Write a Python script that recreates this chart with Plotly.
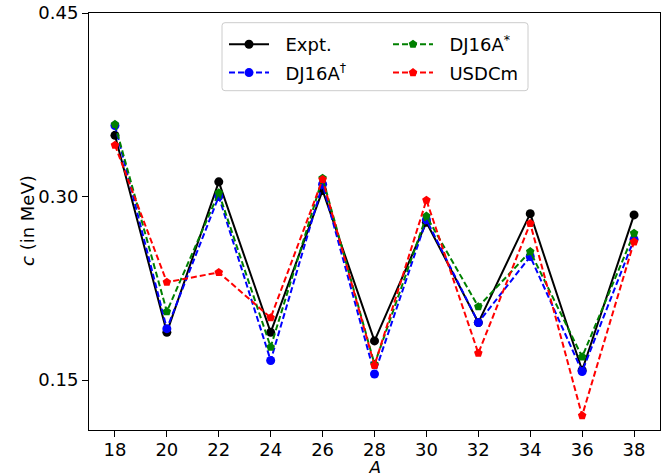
import plotly.graph_objects as go

A = [18, 20, 22, 24, 26, 28, 30, 32, 34, 36, 38]
expt = [0.350, 0.189, 0.312, 0.189, 0.305, 0.182, 0.279, 0.197, 0.286, 0.158, 0.285]
dj16a_dag = [0.358, 0.192, 0.300, 0.166, 0.310, 0.155, 0.281, 0.197, 0.251, 0.157, 0.265]
dj16a_star = [0.359, 0.206, 0.303, 0.177, 0.315, 0.163, 0.284, 0.210, 0.255, 0.169, 0.270]
usdcm = [0.342, 0.230, 0.238, 0.201, 0.314, 0.162, 0.297, 0.172, 0.278, 0.121, 0.263]
x_ticks = [18, 20, 22, 24, 26, 28, 30, 32, 34, 36, 38]
y_ticks = [0.15, 0.30, 0.45]

names = ["Expt.", "DJ16A<sup>\u2020</sup>", "DJ16A<sup>*</sup>", "USDCm"]
colors = ["black", "blue", "green", "red"]
symbols = ["circle", "circle", "pentagon", "pentagon"]
dashes = ["solid", "6px,3px", "6px,3px", "6px,3px"]
legends = ["legend", "legend", "legend2", "legend2"]
series = [expt, dj16a_dag, dj16a_star, usdcm]

fig = go.Figure()
for s, n, c, sym, d, lg in zip(series, names, colors, symbols, dashes, legends):
    fig.add_trace(go.Scatter(
        x=A, y=s, name="\u00a0\u00a0" + n, mode="lines+markers", legend=lg,
        legendgroup=n,
        line=dict(color=c, width=2, dash=d),
        marker=dict(color=c, symbol=sym, size=9, line=dict(width=0)),
    ))

# plot area in pixels
L, R, T, B = 89, 8, 13, 43
W, H = 668, 473
pw, ph = W - L - R, H - T - B


def px(xp):
    return (xp - L) / pw


def py(yp):
    return 1 - (yp - T) / ph


# legend frame (rounded rectangle)
bx0, bx1, by0, by1, rad = 222, 528, 22.7, 90.7, 3
path = (
    f"M{px(bx0 + rad)},{py(by0)} L{px(bx1 - rad)},{py(by0)} "
    f"Q{px(bx1)},{py(by0)} {px(bx1)},{py(by0 + rad)} "
    f"L{px(bx1)},{py(by1 - rad)} Q{px(bx1)},{py(by1)} {px(bx1 - rad)},{py(by1)} "
    f"L{px(bx0 + rad)},{py(by1)} Q{px(bx0)},{py(by1)} {px(bx0)},{py(by1 - rad)} "
    f"L{px(bx0)},{py(by0 + rad)} Q{px(bx0)},{py(by0)} {px(bx0 + rad)},{py(by0)} Z"
)
fig.add_shape(type="path", path=path, xref="paper", yref="paper",
              line=dict(color="#cccccc", width=1),
              fillcolor="rgba(255,255,255,0.8)", layer="above")

# axis titles as annotations
fig.add_annotation(text="<i>A</i>", xref="paper", yref="paper",
                   x=px(374), y=py(455), xanchor="center", yanchor="top",
                   showarrow=False, font=dict(size=18))
fig.add_annotation(text="<i>c</i> (in MeV)", xref="paper", yref="paper",
                   x=px(27), y=py(221), xanchor="center", yanchor="middle",
                   textangle=-90, showarrow=False, font=dict(size=18))

font = "DejaVu Sans, sans-serif"
leg_common = dict(
    orientation="v", xanchor="left", yanchor="top",
    bgcolor="rgba(0,0,0,0)", borderwidth=0,
    font=dict(size=18), itemwidth=40, tracegroupgap=2,
)
fig.update_layout(
    width=W, height=H,
    margin=dict(l=L, r=R, t=T, b=B),
    paper_bgcolor="white", plot_bgcolor="white",
    font=dict(family=font, size=18, color="black"),
    showlegend=True,
    legend=dict(x=px(224), y=py(26), **leg_common),
    legend2=dict(x=px(388), y=py(26), **leg_common),
    xaxis=dict(
        range=[17, 39], tickmode="array", tickvals=x_ticks,
        ticks="outside", ticklen=6, tickwidth=1, tickcolor="black",
        showline=True, linecolor="black", linewidth=1, mirror=True,
        showgrid=False, zeroline=False, automargin=False,
        ticklabelstandoff=-3,
    ),
    yaxis=dict(
        range=[0.1092, 0.45], tickmode="array", tickvals=y_ticks,
        ticktext=[f"{v:.2f}" for v in y_ticks],
        ticks="outside", ticklen=6, tickwidth=1, tickcolor="black",
        showline=True, linecolor="black", linewidth=1, mirror=True,
        showgrid=False, zeroline=False, automargin=False,
    ),
)

fig.write_html("out.html")
